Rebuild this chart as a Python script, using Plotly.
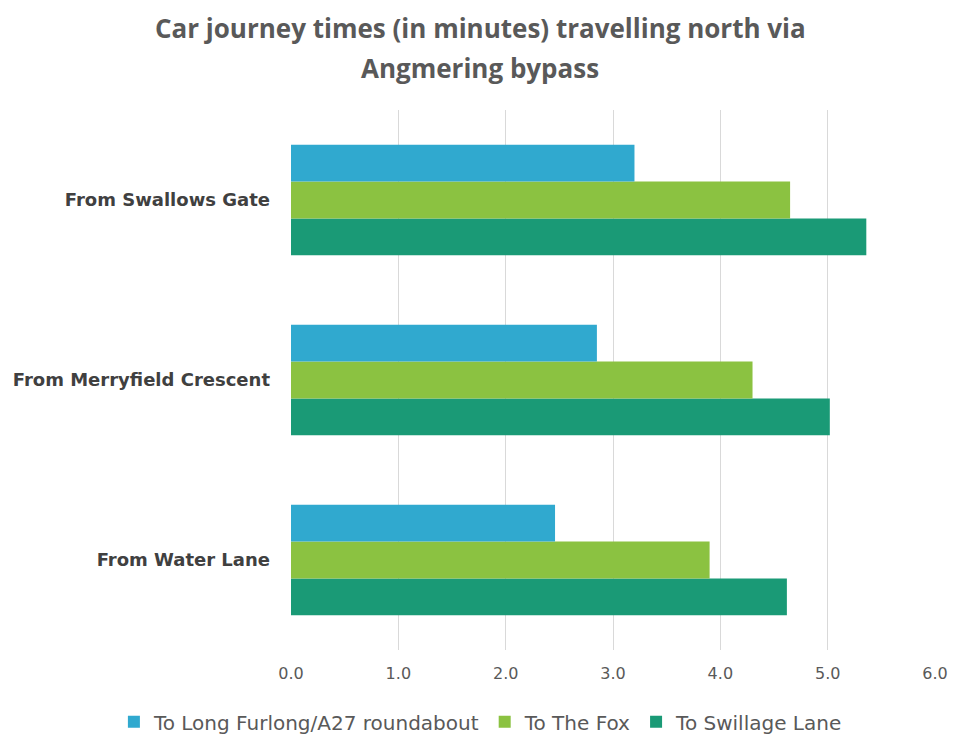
import plotly.graph_objects as go

# Journey origins (bottom-to-top order for the category axis)
origins = ["From Water Lane", "From Merryfield Crescent", "From Swallows Gate"]

# Journey times in minutes to each destination
to_long_furlong = [2.46, 2.85, 3.20]
to_the_fox = [3.90, 4.30, 4.65]
to_swillage_lane = [4.62, 5.02, 5.36]

series_names = ["To Long Furlong/A27 roundabout", "To The Fox", "To Swillage Lane"]
series_colors = ["#30a9cf", "#8bc241", "#1a9a76"]
series_values = [to_long_furlong, to_the_fox, to_swillage_lane]

x_ticks = [0, 1, 2, 3, 4, 5, 6]
x_tick_labels = ["0.0", "1.0", "2.0", "3.0", "4.0", "5.0", "6.0"]

title_lines = ["Car journey times (in minutes) travelling north via", "Angmering bypass"]

fig = go.Figure()
# Added last-to-first so the first series sits on top within each group
for name, color, vals in reversed(list(zip(series_names, series_colors, series_values))):
    fig.add_trace(go.Bar(
        y=origins, x=vals, name=name, orientation="h",
        marker=dict(color=color, line=dict(width=0)),
    ))

title_font = "'Open Sans', Lato, sans-serif"
body_font = "'DejaVu Sans', sans-serif"

# Two-line title, each line placed separately for wider line spacing
for line, ypos in zip(title_lines, [28, 68]):
    fig.add_annotation(
        text=f"<b>{line}</b>", showarrow=False,
        xref="paper", x=(480 - 291) / 644, xanchor="center",
        yref="paper", y=1 + (110 - ypos) / 540, yanchor="middle",
        font=dict(family=title_font, size=26, color="#595959"),
    )

fig.update_layout(
    width=954, height=736,
    barmode="group",
    bargap=0.387, bargroupgap=0,
    paper_bgcolor="white", plot_bgcolor="white",
    margin=dict(l=291, r=19, t=110, b=86, autoexpand=False),
    font=dict(family=body_font, color="#595959"),
    xaxis=dict(
        range=[0, 6], tickvals=x_ticks, ticktext=x_tick_labels,
        showgrid=True, gridcolor="#d9d9d9", gridwidth=1,
        zeroline=False, showline=False, ticks="",
        tickfont=dict(family=body_font, size=16, color="#595959"),
        ticklabelstandoff=12,
    ),
    yaxis=dict(
        showgrid=False, zeroline=False, showline=False, ticks="",
        tickfont=dict(family=body_font, size=18, color="#404040", weight="bold"),
        ticklabelstandoff=20,
    ),
    legend=dict(
        orientation="h", x=-0.275, xanchor="left",
        y=-0.133, yanchor="middle",
        font=dict(family=body_font, size=20, color="#595959"),
        traceorder="reversed",
        itemwidth=30,
    ),
)

fig.write_html("out.html")
